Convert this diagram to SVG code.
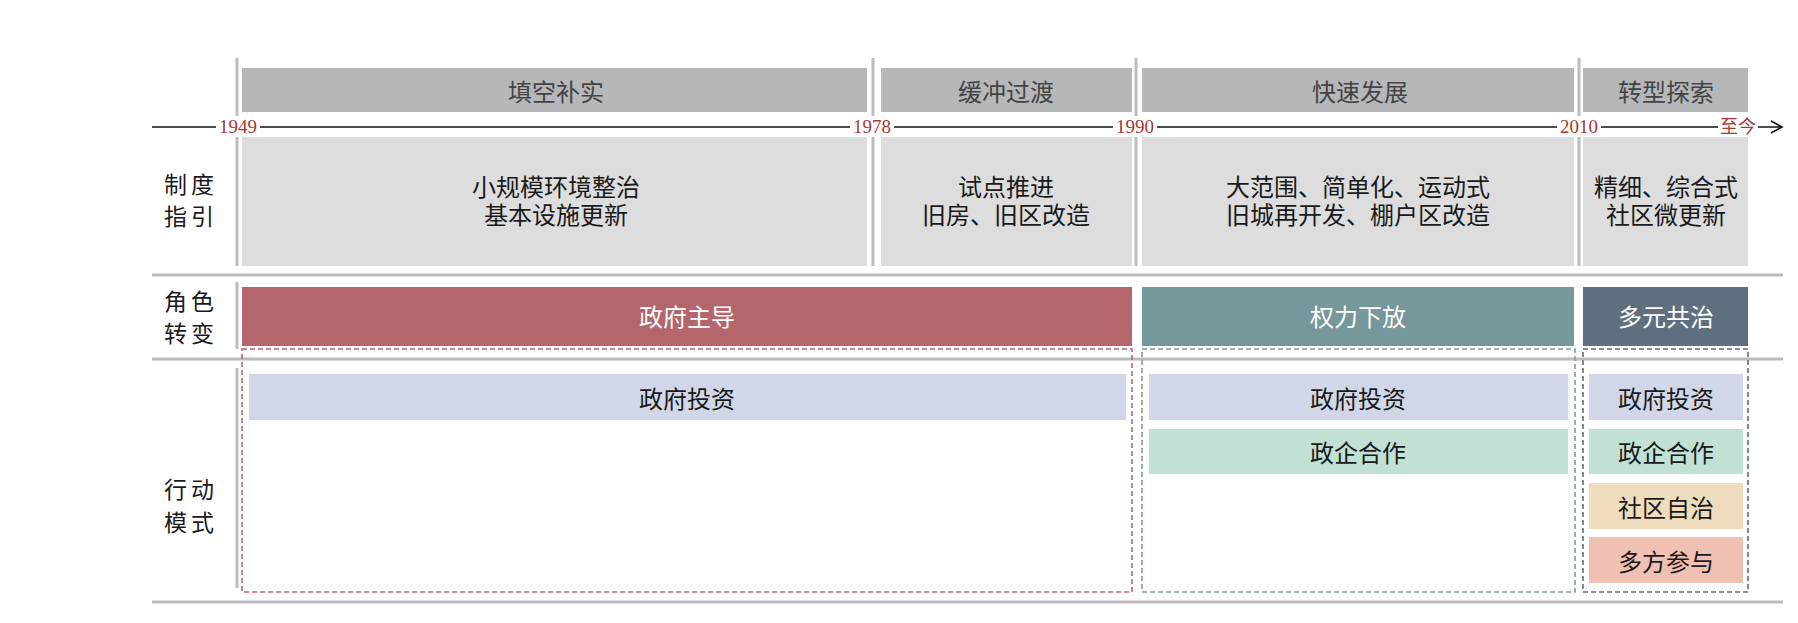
<svg xmlns="http://www.w3.org/2000/svg" width="1798" height="623" viewBox="0 0 1798 623">
<defs>
<style>
.cjk{font-family:"Noto Sans CJK SC","Noto Sans",sans-serif;font-size:24px;dominant-baseline:central;text-anchor:middle}
.two{font-family:"Liberation Sans","Noto Sans CJK SC",sans-serif;font-size:24px;text-anchor:middle;fill:#1a1a1a}
.hdr{fill:#b6b7b9}
.hdrt{fill:#444444}
.cnt{fill:#dddddd}
.dark{fill:#1a1a1a}
.lbl{font-family:"Liberation Sans","Noto Sans CJK SC",sans-serif;font-size:23px;fill:#1a1a1a}
.yr{font-family:"Liberation Serif","Times New Roman",serif;font-size:19px;fill:#a23a30;text-anchor:middle}
.sep{stroke:#bcbcbf;stroke-width:3;fill:none}
.vln{stroke:#bcbcbf;stroke-width:3;fill:none}
.wht{fill:#ffffff}
.dash{fill:none;stroke-width:1.6;stroke-dasharray:5 3}
</style>
<marker id="arr" markerWidth="14" markerHeight="14" refX="12" refY="7" orient="auto" markerUnits="userSpaceOnUse">
<path d="M1,1 L12,7 L1,13" fill="none" stroke="#111" stroke-width="1.6"/>
</marker>
</defs>
<rect width="1798" height="623" fill="#ffffff"/>

<g id="grid">
<line class="sep" x1="152" y1="275" x2="1783" y2="275"/>
<line class="sep" x1="152" y1="359" x2="1783" y2="359"/>
<line class="sep" x1="152" y1="602" x2="1783" y2="602"/>
<line class="vln" x1="237" y1="58" x2="237" y2="266"/>
<line class="vln" x1="873" y1="58" x2="873" y2="266"/>
<line class="vln" x1="1136" y1="58" x2="1136" y2="266"/>
<line class="vln" x1="1579" y1="58" x2="1579" y2="266"/>
<line class="vln" x1="237" y1="282" x2="237" y2="349"/>
<line class="vln" x1="237" y1="368" x2="237" y2="588"/>
</g>

<g id="row-labels">
<text class="lbl"><tspan x="164 191" y="193">制度</tspan><tspan x="164 191" y="225">指引</tspan></text>
<text class="lbl"><tspan x="164 191" y="310">角色</tspan><tspan x="164 191" y="342">转变</tspan></text>
<text class="lbl"><tspan x="164 191" y="498">行动</tspan><tspan x="164 191" y="531">模式</tspan></text>
</g>

<g id="phase-1">
<rect class="hdr" x="242" y="68" width="625" height="44"/>
<text class="cjk hdrt" x="556" y="90">填空补实</text>
<rect class="cnt" x="242" y="137" width="625" height="129"/>
<text class="two"><tspan x="556" y="195.5">小规模环境整治</tspan><tspan x="556" y="223.5">基本设施更新</tspan></text>
</g>
<g id="phase-2">
<rect class="hdr" x="881" y="68" width="251" height="44"/>
<text class="cjk hdrt" x="1006" y="90">缓冲过渡</text>
<rect class="cnt" x="881" y="137" width="251" height="129"/>
<text class="two"><tspan x="1006" y="195.5">试点推进</tspan><tspan x="1006" y="223.5">旧房、旧区改造</tspan></text>
</g>
<g id="phase-3">
<rect class="hdr" x="1142" y="68" width="432" height="44"/>
<text class="cjk hdrt" x="1360" y="90">快速发展</text>
<rect class="cnt" x="1142" y="137" width="432" height="129"/>
<text class="two"><tspan x="1358" y="195.5">大范围、简单化、运动式</tspan><tspan x="1358" y="223.5">旧城再开发、棚户区改造</tspan></text>
</g>
<g id="phase-4">
<rect class="hdr" x="1583" y="68" width="165" height="44"/>
<text class="cjk hdrt" x="1666" y="90">转型探索</text>
<rect class="cnt" x="1583" y="137" width="165" height="129"/>
<text class="two"><tspan x="1666" y="195.5">精细、综合式</tspan><tspan x="1666" y="223.5">社区微更新</tspan></text>
</g>

<g id="connectors">
<line x1="152" y1="127" x2="1782" y2="127" stroke="#111" stroke-width="1.6" marker-end="url(#arr)"/>
</g>

<g id="timeline-labels">
<rect class="wht" x="216" y="116" width="44" height="21"/>
<text class="yr" x="238" y="133">1949</text>
<rect class="wht" x="850" y="116" width="44" height="21"/>
<text class="yr" x="872" y="133">1978</text>
<rect class="wht" x="1113" y="116" width="44" height="21"/>
<text class="yr" x="1135" y="133">1990</text>
<rect class="wht" x="1557" y="116" width="44" height="21"/>
<text class="yr" x="1579" y="133">2010</text>
<rect class="wht" x="1718" y="116" width="40" height="21"/>
<text class="cjk" x="1738" y="125" style="font-size:18px;fill:#a23a30">至今</text>
</g>

<g id="role-gov">
<rect x="242" y="287" width="890" height="59" fill="#b5666d"/>
<text class="cjk" x="687" y="315" fill="#ffffff">政府主导</text>
<rect class="dash" x="242" y="349" width="890" height="243" stroke="#b5666d"/>
</g>
<g id="role-decentral">
<rect x="1142" y="287" width="432" height="59" fill="#76979b"/>
<text class="cjk" x="1358" y="315" fill="#ffffff">权力下放</text>
<rect class="dash" x="1142" y="349" width="433" height="243" stroke="#7f9b9e"/>
</g>
<g id="role-multi">
<rect x="1583" y="287" width="165" height="59" fill="#5e6f80"/>
<text class="cjk" x="1666" y="315" fill="#ffffff">多元共治</text>
<rect class="dash" x="1583" y="349" width="165" height="243" stroke="#5e6f80"/>
</g>

<g id="action-1-gov-invest">
<rect x="249" y="374" width="877" height="46" fill="#d1d7e8"/>
<text class="cjk dark" x="687" y="397">政府投资</text>
</g>
<g id="action-2-gov-invest">
<rect x="1149" y="374" width="419" height="46" fill="#d1d7e8"/>
<text class="cjk dark" x="1358" y="397">政府投资</text>
</g>
<g id="action-2-ppp">
<rect x="1149" y="429" width="419" height="45" fill="#c2e1d5"/>
<text class="cjk dark" x="1358" y="451">政企合作</text>
</g>
<g id="action-3-gov-invest">
<rect x="1589" y="374" width="154" height="46" fill="#d1d7e8"/>
<text class="cjk dark" x="1666" y="397">政府投资</text>
</g>
<g id="action-3-ppp">
<rect x="1589" y="429" width="154" height="45" fill="#c2e1d5"/>
<text class="cjk dark" x="1666" y="451">政企合作</text>
</g>
<g id="action-3-community">
<rect x="1589" y="483" width="154" height="46" fill="#efdcbc"/>
<text class="cjk dark" x="1666" y="506">社区自治</text>
</g>
<g id="action-3-multi">
<rect x="1589" y="537" width="154" height="46" fill="#f0c0b3"/>
<text class="cjk dark" x="1666" y="560">多方参与</text>
</g>
</svg>
